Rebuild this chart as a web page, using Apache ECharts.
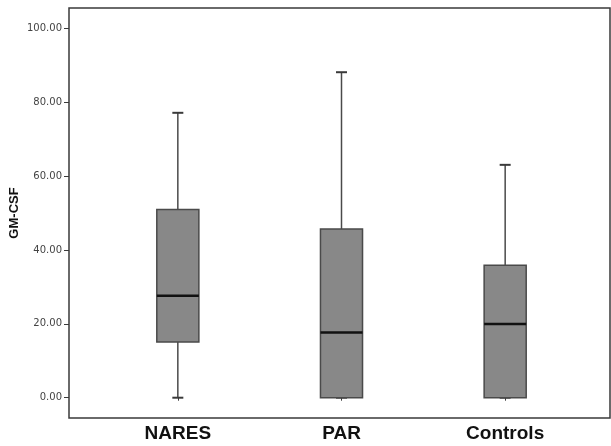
<!DOCTYPE html>
<html><head><meta charset="utf-8">
<script src="https://cdn.jsdelivr.net/npm/echarts@6/dist/echarts.min.js"></script>
<style>html,body{margin:0;padding:0;background:#fff;}#c{width:611px;height:446px;}</style>
</head><body><div id="c"></div>
<script>
var categories = ['NARES', 'PAR', 'Controls'];
var whiskerLow = [0, 0, 0];
var q1 = [15.1, 0, 0];
var median = [27.6, 17.7, 20.0];
var q3 = [51.0, 45.7, 35.9];
var whiskerHigh = [77.2, 88.2, 63.1];
var yTicks = [0, 20, 40, 60, 80, 100];
var yTickLabels = ['0.00', '20.00', '40.00', '60.00', '80.00', '100.00'];

var boxData = categories.map(function (c, i) {
  return [i, whiskerLow[i], q1[i], median[i], q3[i], whiskerHigh[i]];
});

var chart = echarts.init(document.getElementById('c'), null, {renderer: 'canvas'});
var yMin = -5.5, yMax = 105.6;

chart.setOption({
  backgroundColor: '#ffffff',
  animation: false,
  grid: [
    {left: 69, right: 1, top: 8, bottom: 28, outerBoundsMode: 'none', containLabel: false, show: true, borderColor: '#3a3a3a', borderWidth: 1.5, backgroundColor: 'transparent'},
    {left: 96, right: 24, top: 8, bottom: 28, outerBoundsMode: 'none', containLabel: false}
  ],
  xAxis: [
    {gridIndex: 0, type: 'value', min: 0, max: 1, show: false},
    {gridIndex: 1, type: 'category', data: categories,
      axisLine: {show: false},
      axisTick: {show: true, alignWithLabel: true, length: 3, lineStyle: {color: '#3a3a3a', width: 1}},
      axisLabel: {margin: 6, color: '#111', fontFamily: 'Liberation Sans', fontWeight: 'bold', fontSize: 19},
      splitLine: {show: false}}
  ],
  yAxis: [
    {gridIndex: 0, type: 'value', min: yMin, max: yMax,
      name: 'GM-CSF', nameLocation: 'middle', nameRotate: 90, nameGap: 48, nameMoveOverlap: false,
      nameTextStyle: {color: '#111', fontFamily: 'Liberation Sans', fontWeight: 'bold', fontSize: 13},
      axisLine: {show: false},
      axisTick: {show: true, length: 5, customValues: yTicks, lineStyle: {color: '#3a3a3a', width: 1}},
      axisLabel: {customValues: yTicks, margin: 7, color: '#444', fontFamily: 'DejaVu Sans', fontSize: 10,
        formatter: function (v) { var k = yTicks.indexOf(v); return k >= 0 ? yTickLabels[k] : ''; }},
      splitLine: {show: false}},
    {gridIndex: 1, type: 'value', min: yMin, max: yMax, show: false}
  ],
  series: [{
    type: 'custom',
    xAxisIndex: 1, yAxisIndex: 1,
    data: boxData,
    renderItem: function (params, api) {
      var x = api.value(0);
      var pLow = api.coord([x, api.value(1)]);
      var pQ1 = api.coord([x, api.value(2)]);
      var pMed = api.coord([x, api.value(3)]);
      var pQ3 = api.coord([x, api.value(4)]);
      var pHigh = api.coord([x, api.value(5)]);
      var band = api.size([1, 0])[0];
      var bw = band * 0.257;
      var cw = 11;
      var cx = pMed[0];
      var wStyle = {stroke: '#4a4a4a', lineWidth: 1.5};
      return {
        type: 'group',
        children: [
          {type: 'line', shape: {x1: cx, y1: pQ3[1], x2: cx, y2: pHigh[1]}, style: wStyle},
          {type: 'line', shape: {x1: cx, y1: pLow[1], x2: cx, y2: pQ1[1]}, style: wStyle},
          {type: 'line', shape: {x1: cx - cw / 2, y1: pHigh[1], x2: cx + cw / 2, y2: pHigh[1]}, style: {stroke: '#3a3a3a', lineWidth: 2}},
          {type: 'line', shape: {x1: cx - cw / 2, y1: pLow[1], x2: cx + cw / 2, y2: pLow[1]}, style: {stroke: '#3a3a3a', lineWidth: 2}},
          {type: 'rect', shape: {x: cx - bw / 2, y: pQ3[1], width: bw, height: pQ1[1] - pQ3[1]},
            style: {fill: '#888888', stroke: '#4a4a4a', lineWidth: 1.5}},
          {type: 'line', shape: {x1: cx - bw / 2, y1: pMed[1], x2: cx + bw / 2, y2: pMed[1]}, style: {stroke: '#111', lineWidth: 2.5}}
        ]
      };
    }
  }]
});
</script></body></html>
